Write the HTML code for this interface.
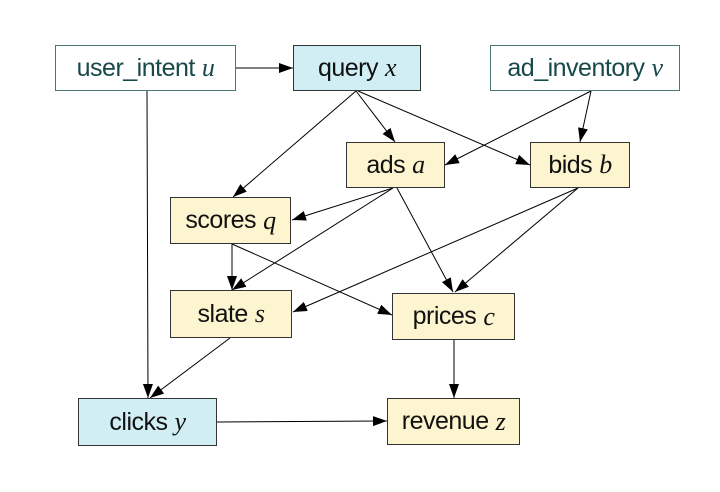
<!DOCTYPE html>
<html><head><style>
body{margin:0;background:#fff;width:720px;height:492px;overflow:hidden;position:relative}
.n{position:absolute;box-sizing:border-box;border:1.5px solid #333;display:flex;align-items:center;justify-content:center;font-family:"Liberation Sans",sans-serif;font-size:25px;color:#111;white-space:nowrap;letter-spacing:-0.5px}
.n i{font-family:"Liberation Serif",serif;font-style:italic;margin-left:7px;font-size:26px}
.w{background:#fff;border-color:#4a7676;color:#17484a}
.b{background:#d0eef4}
.y{background:#fdf5cf}
svg{position:absolute;left:0;top:0}
</style></head><body>
<svg width="720" height="492">
<defs><marker id="a" markerWidth="14" markerHeight="10" refX="14" refY="5" orient="auto" markerUnits="userSpaceOnUse"><path d="M0,0 L14,5 L0,10z" fill="#000"/></marker></defs>
<g stroke="#000" stroke-width="1" fill="none" marker-end="url(#a)">
<line x1="236" y1="68" x2="293" y2="68"/>
<line x1="147" y1="91" x2="148" y2="398"/>
<line x1="356" y1="91" x2="233" y2="197"/>
<line x1="356" y1="91" x2="395" y2="142"/>
<line x1="358" y1="91" x2="530" y2="165"/>
<line x1="591" y1="91" x2="445" y2="165"/>
<line x1="591" y1="91" x2="580" y2="142"/>
<line x1="393" y1="188" x2="292" y2="220"/>
<line x1="393" y1="188" x2="232" y2="290"/>
<line x1="397" y1="188" x2="453" y2="292"/>
<line x1="578" y1="188" x2="293" y2="312"/>
<line x1="578" y1="188" x2="455" y2="292"/>
<line x1="232" y1="244" x2="232" y2="290"/>
<line x1="232" y1="244" x2="392" y2="315"/>
<line x1="230" y1="338" x2="150" y2="398"/>
<line x1="454" y1="340" x2="454" y2="398"/>
<line x1="217" y1="422" x2="387" y2="421"/>
</g></svg>
<div class="n w" style="left:55px;top:45px;width:181px;height:46px">user_intent<i>u</i></div>
<div class="n b" style="left:293px;top:45px;width:128px;height:46px">query<i>x</i></div>
<div class="n w" style="left:490px;top:45px;width:190px;height:46px">ad_inventory<i>v</i></div>
<div class="n y" style="left:346px;top:142px;width:99px;height:46px">ads<i>a</i></div>
<div class="n y" style="left:530px;top:142px;width:100px;height:46px">bids<i>b</i></div>
<div class="n y" style="left:170px;top:197px;width:121px;height:47px">scores<i>q</i></div>
<div class="n y" style="left:170px;top:290px;width:122px;height:48px">slate<i>s</i></div>
<div class="n y" style="left:392px;top:293px;width:123px;height:47px">prices<i>c</i></div>
<div class="n b" style="left:78px;top:398px;width:139px;height:48px">clicks<i>y</i></div>
<div class="n y" style="left:387px;top:398px;width:133px;height:47px">revenue<i>z</i></div>
</body></html>
